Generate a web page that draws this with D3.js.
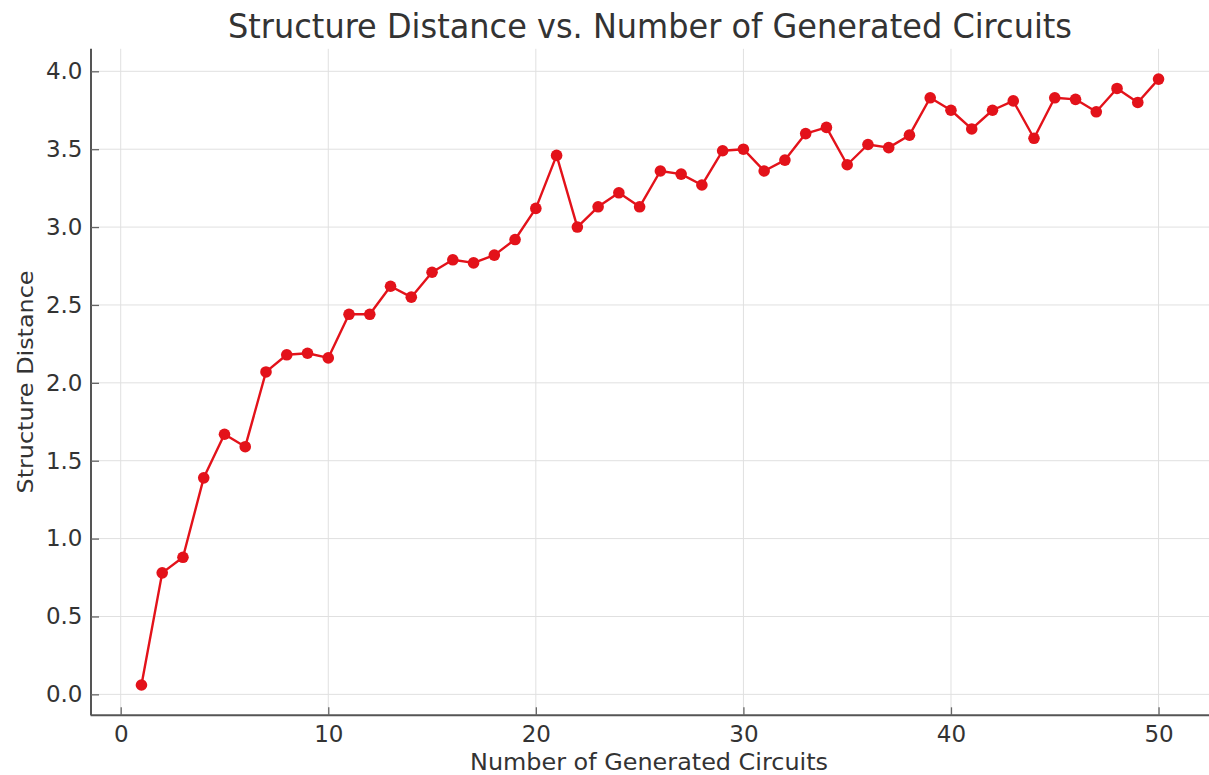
<!DOCTYPE html>
<html>
<head>
<meta charset="utf-8">
<script src="https://cdn.jsdelivr.net/npm/d3@7"></script>
<style>
  html, body { margin: 0; padding: 0; background: #fff; }
  svg { display: block; }
  text { font-family: "DejaVu Sans", sans-serif; }
</style>
</head>
<body>
<svg id="chart" width="1209" height="775"></svg>
<script>
const title = "Structure Distance vs. Number of Generated Circuits";
const xLabel = "Number of Generated Circuits";
const yLabel = "Structure Distance";
const circuits = d3.range(1, 51);
const distances = [
  0.06, 0.78, 0.88, 1.39, 1.67, 1.59, 2.07, 2.18, 2.19, 2.16,
  2.44, 2.44, 2.62, 2.55, 2.71, 2.79, 2.77, 2.82, 2.92, 3.12,
  3.46, 3.00, 3.13, 3.22, 3.13, 3.36, 3.34, 3.27, 3.49, 3.50,
  3.36, 3.43, 3.60, 3.64, 3.40, 3.53, 3.51, 3.59, 3.83, 3.75,
  3.63, 3.75, 3.81, 3.57, 3.83, 3.82, 3.74, 3.89, 3.80, 3.95
];
const xTicks = [0, 10, 20, 30, 40, 50];
const yTicks = [0.0, 0.5, 1.0, 1.5, 2.0, 2.5, 3.0, 3.5, 4.0];

(function () {
const data = circuits.map((c, i) => ({x: c, y: distances[i]}));

const svg = d3.select("#chart");
const pLeft = 90.6, pRight = 1209.4, pTop = 48.8, pBottom = 715.3;

const xExt = d3.extent(circuits), yExt = d3.extent(distances);
const xm = (xExt[1] - xExt[0]) * 0.05, ym = (yExt[1] - yExt[0]) * 0.05;
const x = d3.scaleLinear().domain([xExt[0] - xm, xExt[1] + xm]).range([pLeft, pRight]);
const y = d3.scaleLinear().domain([yExt[0] - ym, yExt[1] + ym]).range([pBottom, pTop]);

const textColor = "#333333";
const spineColor = "#555555";

// grid
svg.append("g").selectAll("line").data(xTicks).join("line")
  .attr("x1", d => x(d)).attr("x2", d => x(d))
  .attr("y1", pTop).attr("y2", pBottom)
  .attr("stroke", "#e0e0e0").attr("stroke-width", 1);
svg.append("g").selectAll("line").data(yTicks).join("line")
  .attr("x1", pLeft).attr("x2", pRight)
  .attr("y1", d => y(d)).attr("y2", d => y(d))
  .attr("stroke", "#e0e0e0").attr("stroke-width", 1);

// axes (ticks point inward)
const xAxis = d3.axisBottom(x).tickValues(xTicks).tickFormat(d3.format("d")).tickSizeInner(-8).tickSizeOuter(0).tickPadding(10);
const yAxis = d3.axisLeft(y).tickValues(yTicks).tickFormat(d3.format(".1f")).tickSizeInner(-8).tickSizeOuter(0).tickPadding(8.5);

const gx = svg.append("g").attr("transform", `translate(0,${pBottom})`).call(xAxis);
const gy = svg.append("g").attr("transform", `translate(${pLeft + 0.4},0)`).call(yAxis);

[gx, gy].forEach(g => {
  g.select(".domain").attr("stroke", spineColor).attr("stroke-width", 2);
  g.selectAll(".tick line").attr("stroke", "#666666").attr("stroke-width", 1.3);
  g.selectAll(".tick text").attr("fill", textColor).attr("font-size", 23)
    .attr("font-family", "DejaVu Sans, sans-serif");
});
gx.select(".domain").attr("d", `M${pLeft},0H${pRight}`);
gy.select(".domain").attr("d", `M0,${pTop}V${pBottom}`);

// line
const lineGen = d3.line().x(d => x(d.x)).y(d => y(d.y));
svg.append("path").datum(data)
  .attr("d", lineGen)
  .attr("fill", "none")
  .attr("stroke", "#e3121a")
  .attr("stroke-width", 2.4)
  .attr("stroke-linejoin", "round");

svg.append("g").selectAll("circle").data(data).join("circle")
  .attr("cx", d => x(d.x)).attr("cy", d => y(d.y))
  .attr("r", 5.8)
  .attr("fill", "#e3121a");

// title
svg.append("text")
  .attr("x", 650).attr("y", 37.5)
  .attr("text-anchor", "middle")
  .attr("font-size", 33)
  .attr("fill", textColor)
  .attr("textLength", 844).attr("lengthAdjust", "spacingAndGlyphs")
  .text(title);

// x label
svg.append("text")
  .attr("x", 649).attr("y", 770)
  .attr("text-anchor", "middle")
  .attr("font-size", 23)
  .attr("fill", textColor)
  .attr("textLength", 358).attr("lengthAdjust", "spacingAndGlyphs")
  .text(xLabel);

// y label
svg.append("text")
  .attr("transform", `translate(33,382) rotate(-90)`)
  .attr("text-anchor", "middle")
  .attr("font-size", 22)
  .attr("fill", textColor)
  .attr("textLength", 223).attr("lengthAdjust", "spacingAndGlyphs")
  .text(yLabel);
})();
</script>
</body>
</html>
